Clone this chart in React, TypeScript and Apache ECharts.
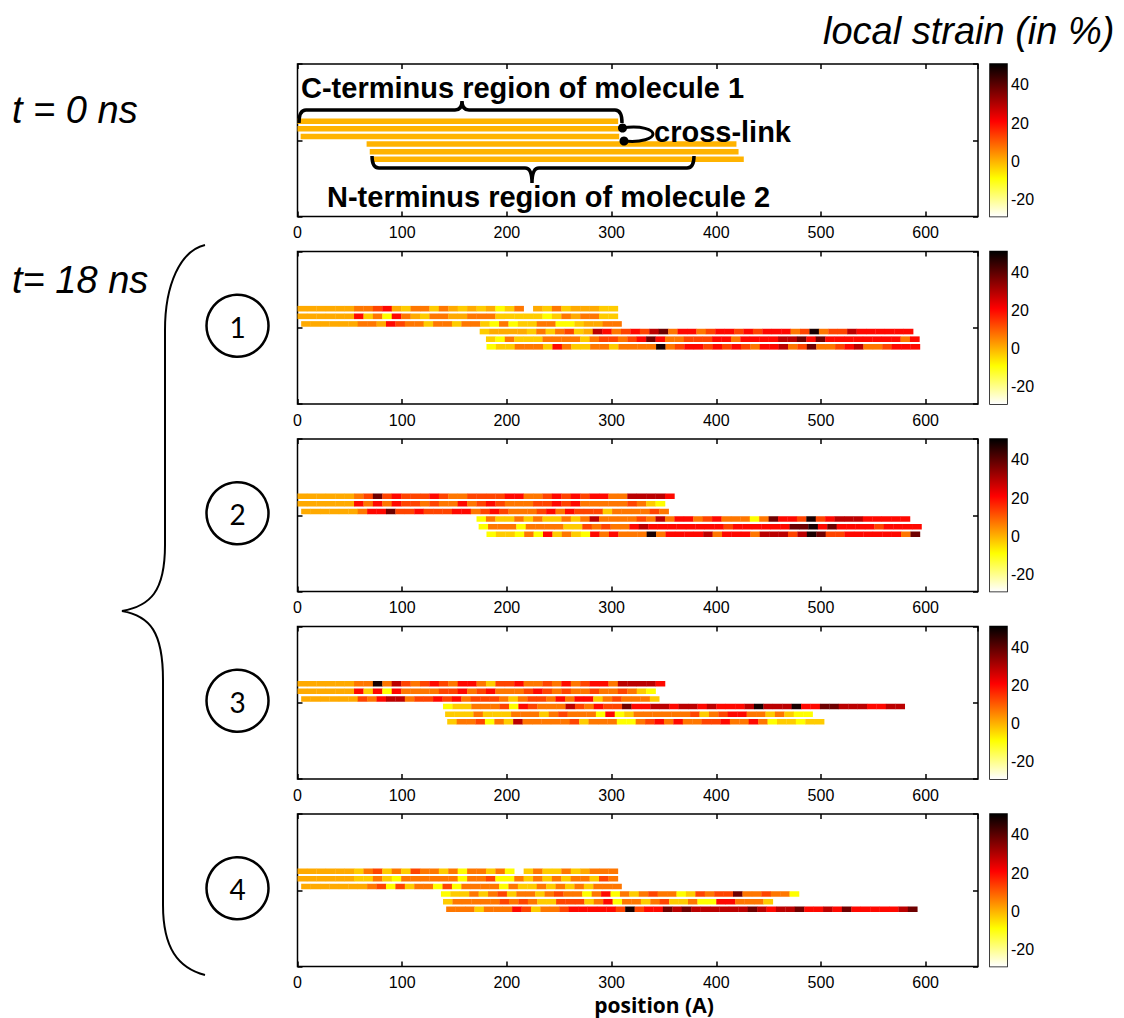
import React, { useEffect, useRef } from "react";
import * as echarts from "echarts";

// ---------------- data ----------------
const xMin = 0;
const xMax = 650;
const xInterval = 100;
const colorbarTicks = [-20, 0, 20, 40];
const strainMin = -29;
const strainMax = 51;
// "hot" colormap, low strain (white) -> high strain (black)
const hotColors = ["#ffffff", "#ffff80", "#ffff00", "#ffaa00", "#ff5500", "#ff0000", "#aa0000", "#550000", "#000000"];
const segmentLength = 9; // Å per coloured block
const rowLevels = [2.5, 1.5, 0.5, -0.5, -1.5, -2.5];
const strainCodes: Record<string, number> = {
  w: -26, l: -18, y: -9, g: -3, o: 1, O: 7, r: 13, R: 20, d: 29, D: 38, k: 48,
};

// t = 0 ns : unstrained rows
const initialStarts = [0, 0, 3, 66, 69, 72];
const initialEnds = [306, 307, 307, 419, 421, 426];
const initialStrain = [0, 0, 0, 0, 0, 0];

// t = 18 ns : sample 1
const sample1Starts = [0, 0, 3.5, 174, 180, 180.5];
const sample1Rows = [
  "ooooooOOrRogOOgOogogoygO ogOgooogg",
  "ooooooRgOyROogOOooOOOgggggygOoOOgg",
  "ooooooOOoRrOOgOOgOOgyOyggOOyygooOO",
  "goooogOgOrgodROrRrdDORROrRRrRrRRROrkOrrdRRRRRR",
  "gyOgggOOOOgOrrOrRDROOrrrRRORRRRddDRDRRRRRRRROR",
  "yggOOOgROggOOgOOOOkOrRRrRrRrORRdOrDOOrRdOOrRRR",
];
// sample 2
const sample2Starts = [0, 0, 3.5, 171, 173, 180.5];
const sample2Rows = [
  "ooooooOrDrRrrrRrOOrrrrRROOrRrRrRROOddddR",
  "ooooooRORORrrOrOOROrRrOOOrrRrROOOOOrOgy",
  "ooooooORRDrrRrrrRROrRrOOOrRORrrrgOOOOrO",
  "yOggOgOggOgOdOOOOrOdORROrROOOyODRRrkrRdddRRRRR",
  "yOOOyOOOOggrOrOORdRRRRRRRRrRRRRRRDDkRDRRRRrRRRR",
  "yggyOyRgOgyROROOOkORRRRdORRROdddrdkDrrRRRRRROD",
];
// sample 3
const sample3Starts = [0, 0, 3.5, 139, 141, 143];
const sample3Rows = [
  "ooooooOOkOdrOrRrORROgrrROOrOROrRROddddR",
  "ooooooRgRyROOOOrrROrROOOrRrOrOOrOOrOgy",
  "oooooorORddOrrRrROrrrOgOrrORORRgOrOOOg",
  "yggOOOryRrOOOdrORrrDRRddRddRdRRRdkdddkRRDDdddRRdd",
  "gggOgggOOOgOrOOOyRygOOOOOOrgOrRROOgOgyy",
  "gOOryOgdOOOOOrgOOOyyOrROROOrrROOROyggygg",
];
// sample 4
const sample4Starts = [0, 0, 3.5, 137, 139, 142];
const sample4Rows = [
  "oooooogOrgOgrOOgOyOOgOy gOggOgoOOO",
  "ooooooggOgyOOOOOOyOOryyOgOgOgOOgrO",
  "oooooooOryrgOOyryOOOOyOggOgOgOgOOO",
  "yggOgOrgOOgOrOOyORyOgOrOOygrOrrDOOrOOy",
  "gOOOOOrOrOggrrrgORyOOgOrggOyyRROOOg",
  "OOOgOOORrgOOrRRRRRrkrRRDdDddddddDdRddDRRdRDRRRRRdD",
];
const sampleLabels = ["1", "2", "3", "4"];

// ---------------- helpers ----------------
function rowsToItems(starts: number[], rows: string[]) {
  const items: number[][] = [];
  rows.forEach((codes, r) => {
    for (let i = 0; i < codes.length; i++) {
      const c = codes[i];
      if (c === " ") continue;
      const x0 = starts[r] + i * segmentLength;
      items.push([x0, x0 + segmentLength, rowLevels[r], strainCodes[c]]);
    }
  });
  return items;
}

const initialItems = initialStarts.map((s, r) => [s, initialEnds[r], rowLevels[r], initialStrain[r]]);
const panelData = [
  initialItems,
  rowsToItems(sample1Starts, sample1Rows),
  rowsToItems(sample2Starts, sample2Rows),
  rowsToItems(sample3Starts, sample3Rows),
  rowsToItems(sample4Starts, sample4Rows),
];

// ---------------- shapes ----------------
const bigBracePath =
  "M 205 245 C 180 251 165 285 165 330 L 165 545 C 165 592 150 606 122 611 C 150 616 163 632 163 680 L 163 905 C 163 948 178 968 205 975";
const topBracePath =
  "M 299 123 Q 299 110 306 110 L 455 110 Q 462 110 462 101 Q 462 110 469 110 L 615 110 Q 622 110 622 123";
const bottomBracePath =
  "M 372 156 Q 372 168 379 168 L 525 168 Q 532 168 532 183 Q 532 168 539 168 L 687 168 Q 694 168 694 156";
const crossLinkPath = "M 622 128 C 642 125 653 130 653 134 C 653 138 642 143 624 141";

echarts.graphic.registerShape("bigBrace", echarts.graphic.extendPath(bigBracePath, {}));
echarts.graphic.registerShape("topBrace", echarts.graphic.extendPath(topBracePath, {}));
echarts.graphic.registerShape("bottomBrace", echarts.graphic.extendPath(bottomBracePath, {}));
echarts.graphic.registerShape("crossLinkCurve", echarts.graphic.extendPath(crossLinkPath, {}));

// ---------------- layout ----------------
const panelTops = [64, 251.5, 439, 626.5, 814];
const panelHeight = 152.5;
const plotLeft = 297.5;
const plotWidth = 680.5;
const cbLeft = 990;
const cbWidth = 17;
const tickFont = "Liberation Sans";

export default function App() {
  const ref = useRef<HTMLDivElement>(null);

  useEffect(() => {
    if (!ref.current) return;
    const chart = echarts.init(ref.current, null, { renderer: "svg" });

    const grids: any[] = [];
    const xAxes: any[] = [];
    const yAxes: any[] = [];
    const series: any[] = [];

    const tick = { inside: true, length: 5, lineStyle: { color: "#000", width: 1.5 } };
    const hiddenLine = { show: false, onZero: false };

    panelTops.forEach((top) => {
      grids.push({
        left: plotLeft, top, width: plotWidth, height: panelHeight,
        show: true, borderColor: "#000", borderWidth: 1.5, backgroundColor: "#fff",
      });
    });
    panelTops.forEach((top) => {
      grids.push({
        left: cbLeft, top, width: cbWidth, height: panelHeight,
        show: true, borderColor: "#000", borderWidth: 1.5, backgroundColor: "transparent",
      });
    });

    panelTops.forEach((_, i) => {
      xAxes.push({
        type: "value", gridIndex: i, position: "bottom", min: xMin, max: xMax, interval: xInterval,
        axisLine: hiddenLine, splitLine: { show: false }, axisTick: tick,
        axisLabel: { color: "#000", fontSize: 16, fontFamily: tickFont, margin: 8, showMaxLabel: false },
      });
      xAxes.push({
        type: "value", gridIndex: i, position: "top", min: xMin, max: xMax, interval: xInterval,
        axisLine: hiddenLine, splitLine: { show: false }, axisTick: tick,
        axisLabel: { show: false },
      });
      yAxes.push({
        type: "value", gridIndex: i, position: "left", min: -10, max: 10, interval: 10,
        axisLine: hiddenLine, splitLine: { show: false }, axisLabel: { show: false }, axisTick: tick,
      });
      yAxes.push({
        type: "value", gridIndex: i, position: "right", min: -10, max: 10, interval: 10,
        axisLine: hiddenLine, splitLine: { show: false }, axisLabel: { show: false }, axisTick: tick,
      });
    });
    panelTops.forEach((_, i) => {
      xAxes.push({ type: "value", gridIndex: 5 + i, min: 0, max: 1, show: false });
      yAxes.push({
        type: "value", gridIndex: 5 + i, position: "right", min: strainMin, max: strainMax,
        axisLine: hiddenLine, splitLine: { show: false },
        axisTick: { inside: true, length: 3, customValues: colorbarTicks, lineStyle: { color: "#000", width: 1 } },
        axisLabel: { color: "#000", fontSize: 16, fontFamily: tickFont, margin: 4, customValues: colorbarTicks },
      });
      yAxes.push({
        type: "value", gridIndex: 5 + i, position: "left", min: strainMin, max: strainMax,
        axisLine: hiddenLine, splitLine: { show: false }, axisLabel: { show: false },
        axisTick: { inside: true, length: 3, customValues: colorbarTicks, lineStyle: { color: "#000", width: 1 } },
      });
    });

    panelData.forEach((items, i) => {
      series.push({
        type: "custom",
        xAxisIndex: 2 * i,
        yAxisIndex: 2 * i,
        encode: { x: [0, 1], y: 2 },
        clip: true,
        data: items,
        renderItem: (params: any, api: any) => {
          const p0 = api.coord([api.value(0), api.value(2)]);
          const p1 = api.coord([api.value(1), api.value(2)]);
          const h = 5.6;
          return {
            type: "rect",
            shape: { x: p0[0], y: p0[1] - h / 2, width: p1[0] - p0[0] + 0.3, height: h },
            style: { fill: api.visual("color") },
          };
        },
      });
    });

    const gradientStops = hotColors
      .slice()
      .reverse()
      .map((c, k, arr) => ({ offset: k / (arr.length - 1), color: c }));

    panelTops.forEach((_, i) => {
      series.push({
        type: "custom",
        xAxisIndex: 10 + i,
        yAxisIndex: 10 + 2 * i,
        data: [[0.5, (strainMin + strainMax) / 2]],
        renderItem: (params: any) => {
          const cs = params.coordSys;
          return {
            type: "rect",
            shape: { x: cs.x, y: cs.y, width: cs.width, height: cs.height },
            style: { fill: { type: "linear", x: 0, y: 0, x2: 0, y2: 1, colorStops: gradientStops } },
          };
        },
      });
    });

    const textStyle = (text: string, size: number, weight: string, style: string, family: string, align = "left") => ({
      text, fontSize: size, fontWeight: weight, fontStyle: style, fontFamily: family, fill: "#000",
      textAlign: align, textVerticalAlign: "middle",
    });

    const graphic: any[] = [
      { type: "text", x: 823, y: 31, z: 100, style: textStyle("local strain (in %)", 38, "normal", "italic", "Liberation Sans") },
      { type: "text", x: 12, y: 110, z: 100, style: textStyle("t = 0 ns", 38, "normal", "italic", "Liberation Sans") },
      { type: "text", x: 12, y: 280, z: 100, style: textStyle("t= 18 ns", 38, "normal", "italic", "Liberation Sans") },
      { type: "text", x: 301, y: 88, z: 100, style: textStyle("C-terminus region of molecule 1", 29, "bold", "normal", "Liberation Sans") },
      { type: "text", x: 327, y: 197, z: 100, style: textStyle("N-terminus region of molecule 2", 29, "bold", "normal", "Liberation Sans") },
      { type: "text", x: 654, y: 132, z: 100, style: textStyle("cross-link", 29, "bold", "normal", "Liberation Sans") },
      { type: "text", x: 654, y: 1005, z: 100, style: textStyle("position (A)", 21, "bold", "normal", "Open Sans", "center") },
      { type: "bigBrace", z: 100, style: { fill: "none", stroke: "#000", lineWidth: 2 } },
      { type: "topBrace", z: 100, style: { fill: "none", stroke: "#000", lineWidth: 3.5 } },
      { type: "bottomBrace", z: 100, style: { fill: "none", stroke: "#000", lineWidth: 3.5 } },
      { type: "crossLinkCurve", z: 100, style: { fill: "none", stroke: "#000", lineWidth: 3 } },
      { type: "circle", z: 101, shape: { cx: 622.5, cy: 128, r: 4.5 }, style: { fill: "#000" } },
      { type: "circle", z: 101, shape: { cx: 624, cy: 141, r: 4.5 }, style: { fill: "#000" } },
    ];
    sampleLabels.forEach((label, k) => {
      const cy = panelTops[k + 1] + panelHeight / 2 - 2;
      graphic.push({ type: "circle", z: 100, shape: { cx: 237.5, cy, r: 31 }, style: { fill: "#fff", stroke: "#000", lineWidth: 2.5 } });
      graphic.push({ type: "text", x: 237.5, y: cy + 1, z: 101, style: textStyle(label, 28, "normal", "normal", "Lato", "center") });
    });

    chart.setOption({
      animation: false,
      backgroundColor: "#fff",
      grid: grids,
      xAxis: xAxes,
      yAxis: yAxes,
      visualMap: {
        type: "continuous", show: false, min: strainMin, max: strainMax, dimension: 3,
        seriesIndex: [0, 1, 2, 3, 4], inRange: { color: hotColors },
      },
      series,
      graphic,
    });

    return () => chart.dispose();
  }, []);

  return (
    <div
      ref={ref}
      style={{ position: "absolute", left: 0, top: 0, width: 1124, height: 1018, background: "#fff" }}
    />
  );
}
